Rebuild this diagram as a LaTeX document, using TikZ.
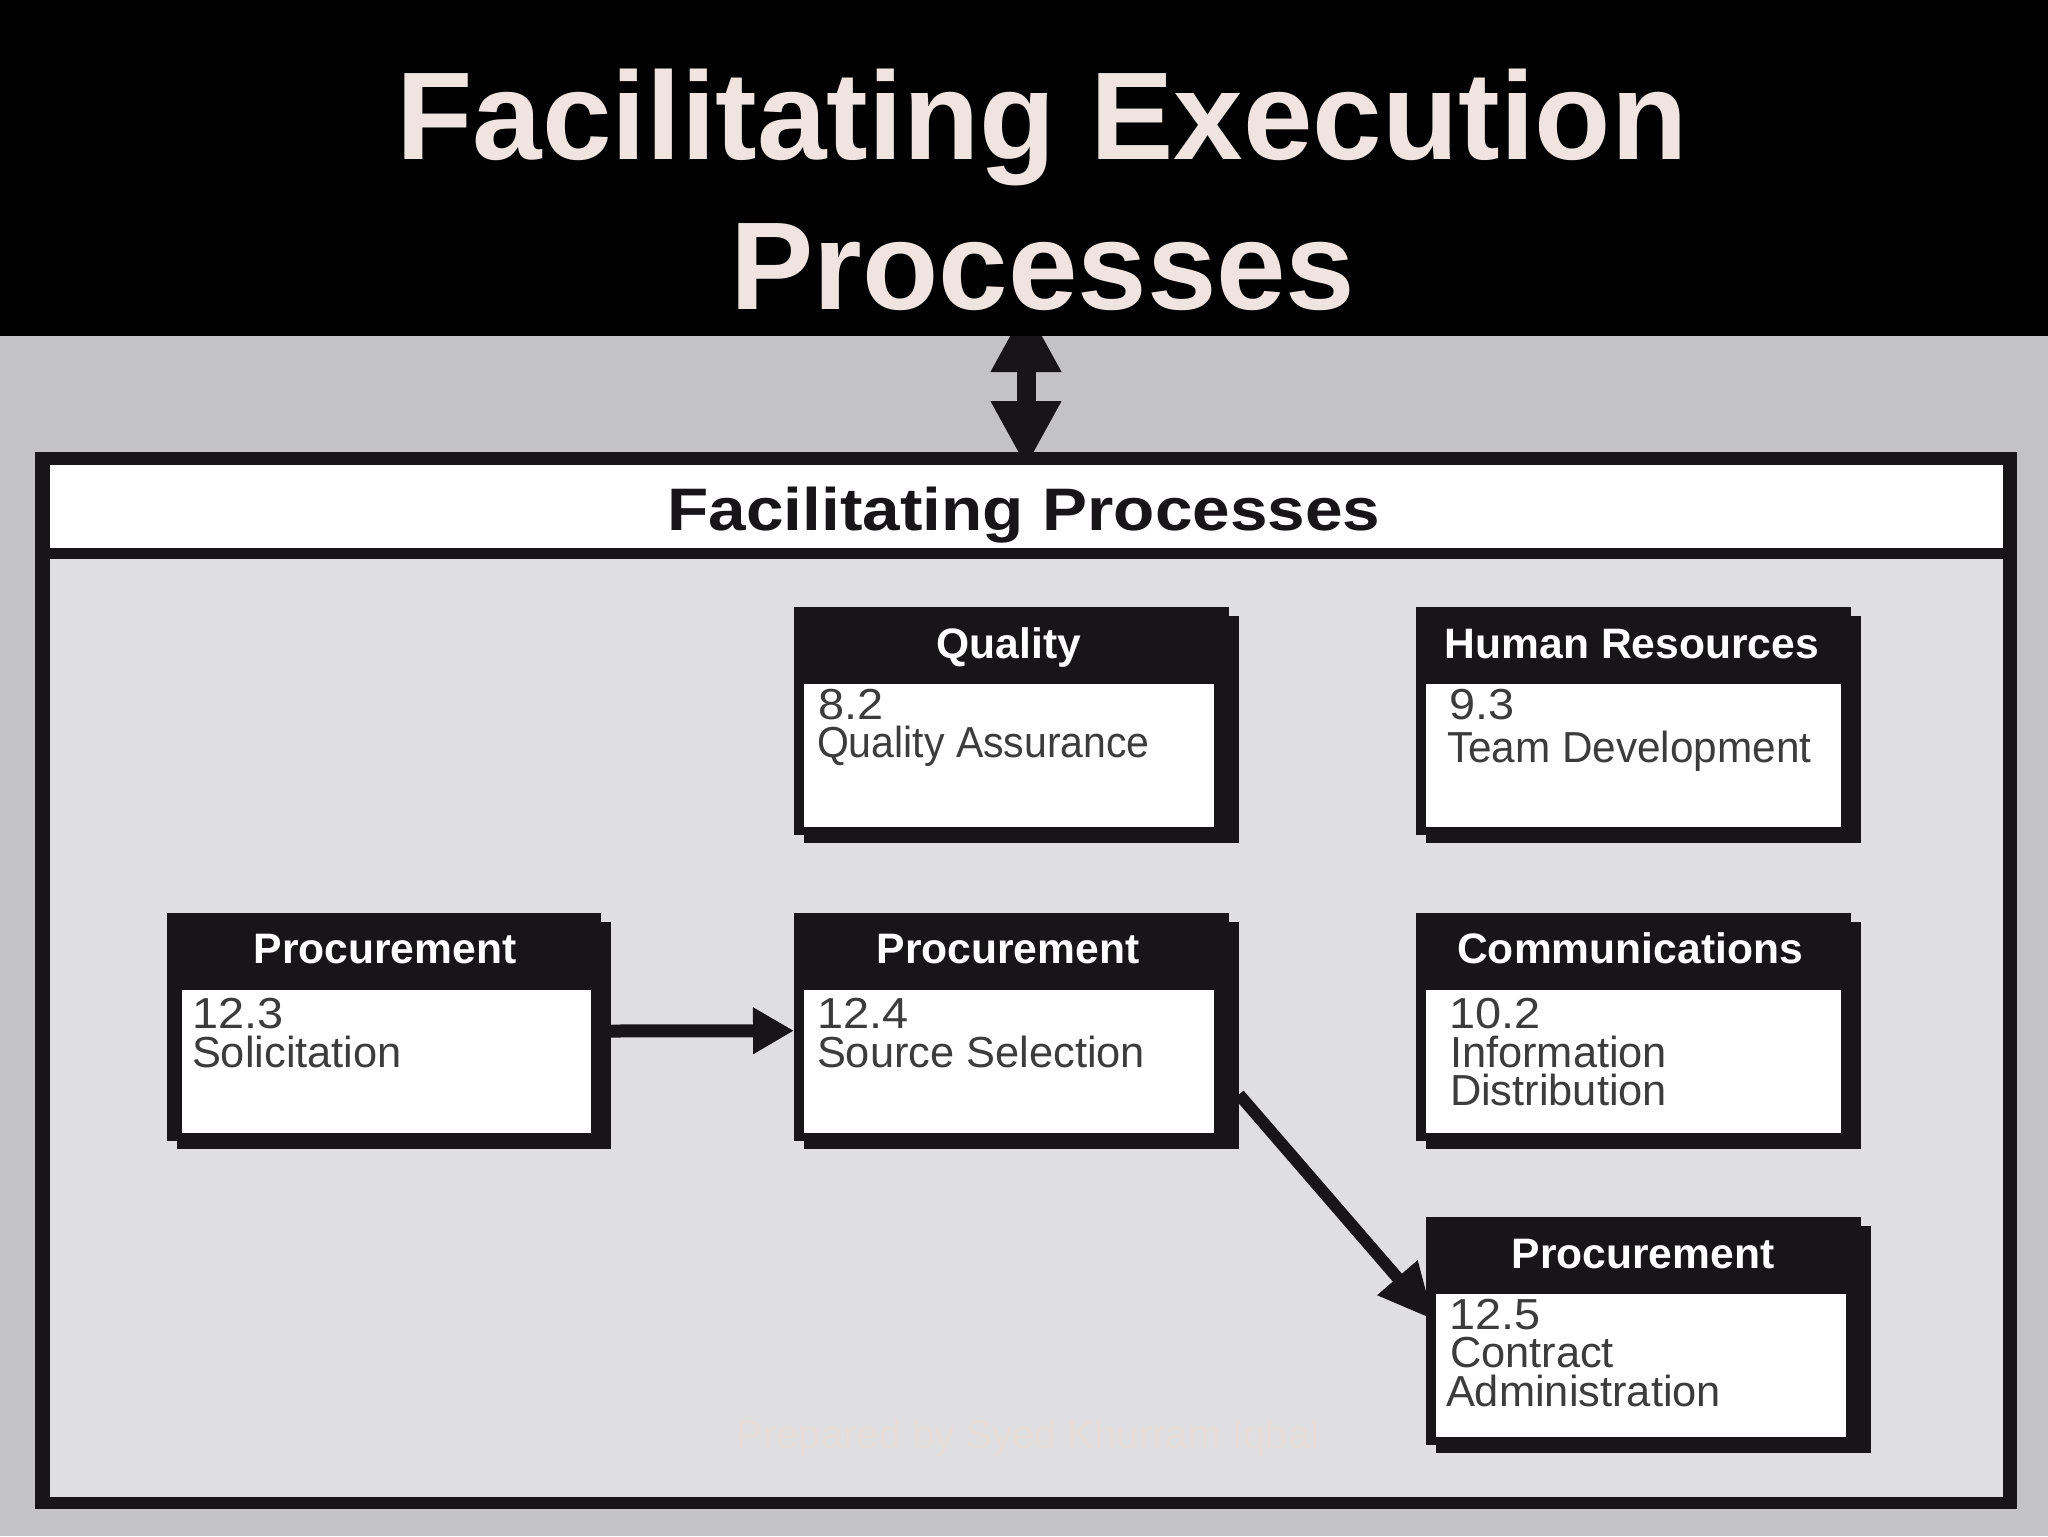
\documentclass[tikz,border=0pt]{standalone}
\usepackage{fontspec}
\setmainfont{Liberation Sans}
\newfontfamily\bandfont{Liberation Sans}[FakeStretch=1.125]
\newfontfamily\numfont{Liberation Sans}[FakeStretch=1.08]
\newfontfamily\qafont{Liberation Sans}[FakeStretch=0.945]
\newfontfamily\tdfont{Liberation Sans}[FakeStretch=0.975]
\usetikzlibrary{arrows.meta,fit}
\definecolor{ink}{HTML}{171518}
\definecolor{slide}{HTML}{C3C2C4}
\definecolor{panelc}{HTML}{DFDEE1}
\definecolor{titlec}{HTML}{EFE4DF}
\definecolor{bodyc}{HTML}{3C3C3C}
\definecolor{faintc}{HTML}{E6DCDA}
\pgfdeclarelayer{under}
\pgfdeclarelayer{mid}
\pgfsetlayers{under,mid,main}
\tikzset{
  block/.style={inner sep=0pt,outer sep=0pt,draw=none},
  inkblock/.style={block,fill=ink},
  whiteblock/.style={block,fill=white},
  txt/.style={inner sep=0pt,outer sep=0pt},
  titletext/.style={txt,anchor=base,text=titlec,font=\fontsize{62.45}{70}\selectfont\bfseries},
  bandtext/.style={txt,anchor=base,text=ink,font=\fontsize{30}{36}\bandfont\bfseries},
  headtext/.style={txt,anchor=base,text=white,font=\fontsize{21.3}{26}\selectfont\bfseries},
  bodytext/.style={txt,anchor=base west,text=bodyc,font=\fontsize{21.7}{26}\selectfont},
  numtext/.style={bodytext,font=\fontsize{21.7}{26}\numfont},
  qatext/.style={bodytext,font=\fontsize{21.7}{26}\qafont},
  tdtext/.style={bodytext,font=\fontsize{21.7}{26}\tdfont},
  faint/.style={txt,anchor=base,text=faintc,font=\fontsize{20}{24}\selectfont},
  thinarrow/.style={ink,line width=6.5pt,-{Triangle[length=20.5pt,width=22pt]}},
  diagarrow/.style={ink,line width=6pt,-{Triangle[length=28pt,width=25pt]}},
  bigarrow/.style={ink,line width=9.5pt,
    {Triangle[length=33pt,width=33pt]}-{Triangle[length=33pt,width=33pt]},
    shorten <=-15pt,shorten >=-7.5pt}
}
% name, main left, main right, top, white right, header centre, header text, white left
\newcommand{\procbox}[8]{%
  \pgfmathsetmacro{\sl}{#2+10}\pgfmathsetmacro{\sr}{#3+10}%
  \pgfmathsetmacro{\st}{#4+9}\pgfmathsetmacro{\sb}{#4+236}%
  \pgfmathsetmacro{\mb}{#4+228}\pgfmathsetmacro{\wt}{#4+77}%
  \pgfmathsetmacro{\wb}{#4+220}\pgfmathsetmacro{\hy}{#4+51}%
  \node[inkblock,fit={(\sl,\st)(\sr,\sb)}] (#1s) {};
  \node[inkblock,fit={(#2,#4)(#3,\mb)}] (#1) {};
  \node[whiteblock,fit={(#8,\wt)(#5,\wb)}] (#1w) {};
  \node[headtext] (#1h) at (#6,\hy) {#7};
}
\begin{document}
\begin{tikzpicture}[x=0.5pt,y=-0.5pt]
\useasboundingbox (0,0) rectangle (2048,1536);
\begin{pgfonlayer}{under}
  \fill[slide] (0,0) rectangle (2048,1536);
\end{pgfonlayer}
\node[block,fill=black,fit={(0,0)(2048,336)}] (banner) {};
\node[titletext] (t1) at (1042,159) {Facilitating Execution};
\node[titletext] (t2) at (1043,309) {Processes};
\node[inkblock,fit={(35,452)(2017,1509)}] (frame) {};
\node[whiteblock,fit={(50,465)(2003,548)}] (band) {};
\node[block,fill=panelc,fit={(50,559)(2003,1497)}] (panel) {};
\node[bandtext] (bandt) at (1024,530) {Facilitating Processes};
\node[faint] (prep) at (1028,1448) {Prepared by Syed Khurram Iqbal};

\procbox{qa}{794}{1229}{607}{1214}{1009}{Quality}{804}
\node[numtext] (qa1) at (818,719) {8.2};
\node[qatext] (qa2) at (817,757) {Quality Assurance};

\procbox{hr}{1416}{1851}{607}{1841}{1632}{Human Resources}{1426}
\node[numtext] (hr1) at (1449,719) {9.3};
\node[tdtext] (hr2) at (1447,762) {Team Development};

\procbox{sol}{167}{601}{912.5}{591}{385}{Procurement}{182}
\node[numtext] (sol1) at (192,1028) {12.3};
\node[bodytext] (sol2) at (192,1067) {Solicitation};

\procbox{src}{794}{1229}{912.5}{1214}{1008}{Procurement}{804}
\node[numtext] (src1) at (817,1028) {12.4};
\node[bodytext] (src2) at (817,1067) {Source Selection};

\procbox{com}{1416}{1851}{912.5}{1841}{1630}{Communications}{1426}
\node[numtext] (com1) at (1449,1028) {10.2};
\node[bodytext] (com2) at (1450,1067) {Information};
\node[bodytext] (com3) at (1450,1105) {Distribution};

\procbox{ct}{1426}{1861}{1217}{1846}{1643}{Procurement}{1436}
\node[numtext] (ct1) at (1449,1329) {12.5};
\node[bodytext] (ct2) at (1450,1367) {Contract};
\node[bodytext] (ct3) at (1446,1406) {Administration};

\begin{pgfonlayer}{mid}
  \draw[bigarrow] (frame.north |- banner.south) -- (frame.north);
\end{pgfonlayer}
\draw[thinarrow] ([yshift=2pt]sols.east) -- ([yshift=-2.1pt]src.west);
\draw[diagarrow] ([shift={(0,59.5)}]srcs.east) -- ([shift={(8,-11)}]ct.west);
\end{tikzpicture}
\end{document}
